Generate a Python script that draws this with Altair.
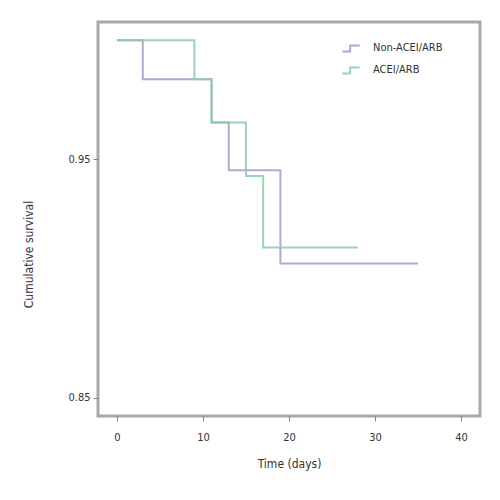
import altair as alt
import pandas as pd

groups = ["Non-ACEI/ARB", "ACEI/ARB"]
non_time = [0, 3, 11, 13, 19, 35]
non_surv = [1.0, 0.9836, 0.9655, 0.9454, 0.9063, 0.9063]
acei_time = [0, 9, 11, 15, 17, 28]
acei_surv = [1.0, 0.9836, 0.9655, 0.943, 0.913, 0.913]
x_ticks = [0, 10, 20, 30, 40]
y_ticks = [0.85, 0.95]

rows = []
for t, s in zip(non_time, non_surv):
    rows.append({"time": t, "surv": s, "group": groups[0]})
for t, s in zip(acei_time, acei_surv):
    rows.append({"time": t, "surv": s, "group": groups[1]})
df = pd.DataFrame(rows)

font = "DejaVu Sans Condensed, Liberation Sans, sans-serif"
step_path = "M-1,0.4 L-0.1,0.4 L-0.1,-0.3 L1,-0.3"

chart = alt.Chart(df).mark_line(interpolate="step-after", strokeWidth=2, opacity=0.85).encode(
    x=alt.X("time:Q", title="Time (days)",
            scale=alt.Scale(domain=[-2.2, 42.2], nice=False, zero=False),
            axis=alt.Axis(values=x_ticks, format="d", grid=False, domain=False,
                          tickSize=5, tickColor="#888", labelPadding=10,
                          titlePadding=16)),
    y=alt.Y("surv:Q", title="Cumulative survival",
            scale=alt.Scale(domain=[0.8424, 1.0076], nice=False, zero=False),
            axis=alt.Axis(values=y_ticks, format=".2f", grid=False, domain=False,
                          tickSize=5, tickColor="#888", labelPadding=3,
                          titlePadding=32, titleY=232)),
    color=alt.Color("group:N", sort=groups,
                    scale=alt.Scale(domain=groups, range=["#9c9ccc", "#88cca4"]),
                    legend=alt.Legend(title=None, orient="none", legendX=243, legendY=16,
                                      symbolType=step_path, symbolSize=300,
                                      symbolStrokeWidth=2, rowPadding=4,
                                      labelOffset=12,
                                      labelFontSize=11, labelFont=font,
                                      labelColor="#333")),
).properties(
    width=382, height=394,
    padding={"left": 90, "top": 14, "right": 10, "bottom": 70},
    autosize=alt.AutoSizeParams(type="none"),
).configure_view(
    stroke="#a8a8a8", strokeWidth=3
).configure_axis(
    labelFont=font, titleFont=font, labelFontSize=11, titleFontSize=12,
    labelColor="#333", titleColor="#333", titleFontWeight="normal"
)

chart.save("out.html", embed_options={"renderer": "svg", "actions": False})
